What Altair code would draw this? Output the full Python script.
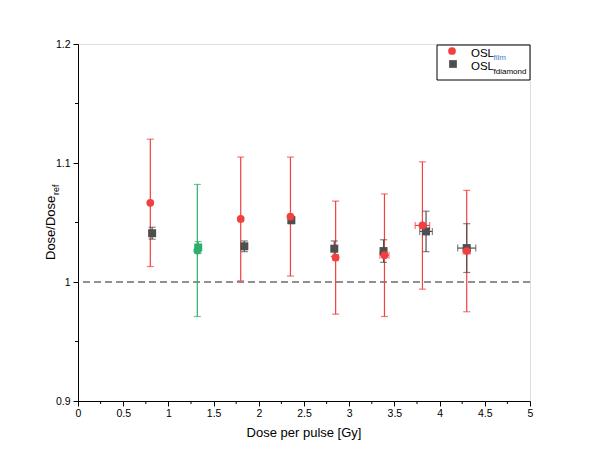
import altair as alt
import pandas as pd

# ---- data ----
dose_film = [0.80, 1.32, 1.80, 2.35, 2.85, 3.39, 3.81, 4.30]
ratio_film = [1.0665, 1.0265, 1.053, 1.055, 1.0205, 1.0225, 1.0475, 1.026]
yerr_film = [0.0535, 0.0555, 0.052, 0.050, 0.0475, 0.0515, 0.0535, 0.051]
xerr_film = [0, 0, 0, 0, 0.03, 0.05, 0.08, 0.04]
group_film = ["film", "set2", "film", "film", "film", "film", "film", "film"]

dose_diam = [0.82, 1.33, 1.84, 2.36, 2.835, 3.38, 3.85, 4.30]
ratio_diam = [1.041, 1.029, 1.030, 1.052, 1.028, 1.026, 1.0425, 1.0285]
yerr_diam = [0.005, 0.005, 0.0045, 0.003, 0.0065, 0.0095, 0.017, 0.0205]
xerr_diam = [0, 0, 0, 0, 0, 0, 0.07, 0.10]
group_diam = ["fdiamond", "set2", "fdiamond", "fdiamond", "fdiamond", "fdiamond", "fdiamond", "fdiamond"]

x_ticks = [0, 0.5, 1, 1.5, 2, 2.5, 3, 3.5, 4, 4.5, 5]
x_minor = [0.25, 0.75, 1.25, 1.75, 2.25, 2.75, 3.25, 3.75, 4.25, 4.75]
y_ticks = [0.9, 1.0, 1.1, 1.2]
y_minor = [0.95, 1.05, 1.15]
reference_level = [1.0]

RED = "#f23f3f"
GRAY = "#4f4f4f"
GREEN = "#2eaf69"
FONT = "Liberation Sans"


def make_df(xs, ys, ye, xe, grp, series):
    return pd.DataFrame({
        "x": xs, "y": ys,
        "ylo": [a - b for a, b in zip(ys, ye)],
        "yhi": [a + b for a, b in zip(ys, ye)],
        "xlo": [a - b for a, b in zip(xs, xe)],
        "xhi": [a + b for a, b in zip(xs, xe)],
        "xerr": xe, "group": grp, "series": series,
    })


film = make_df(dose_film, ratio_film, yerr_film, xerr_film, group_film, "film")
diam = make_df(dose_diam, ratio_diam, yerr_diam, xerr_diam, group_diam, "fdiamond")

xs = alt.Scale(domain=[0, 5], nice=False, zero=False)
ys = alt.Scale(domain=[0.9, 1.2], nice=False, zero=False)
xaxis = alt.Axis(values=x_ticks, format="~g", title=None, grid=False, tickSize=5,
                 labelPadding=2, labelFontSize=10.5, labelFont=FONT, labelColor="black",
                 domainColor="black", tickColor="black", labelFlush=False)
yaxis = alt.Axis(values=y_ticks, format="~g", title=None, grid=False, tickSize=5,
                 labelPadding=3, labelFontSize=10.5, labelFont=FONT, labelColor="black",
                 domainColor="black", tickColor="black", labelFlush=False)
col = alt.Color("group:N", scale=alt.Scale(domain=["film", "fdiamond", "set2"],
                                           range=[RED, GRAY, GREEN]), legend=None)


def X(f):
    return alt.X(f"{f}:Q", scale=xs, axis=xaxis)


def Y(f):
    return alt.Y(f"{f}:Q", scale=ys, axis=yaxis)


def errlayers(df):
    b = alt.Chart(df)
    xe = alt.Chart(df[df["xerr"] > 0])
    return [
        b.mark_rule(strokeWidth=1.2).encode(x=X("x"), y=Y("ylo"), y2="yhi:Q", color=col),
        b.mark_tick(orient="horizontal", size=7, thickness=1.2).encode(x=X("x"), y=Y("ylo"), color=col),
        b.mark_tick(orient="horizontal", size=7, thickness=1.2).encode(x=X("x"), y=Y("yhi"), color=col),
        xe.mark_rule(strokeWidth=1.2).encode(x=X("xlo"), x2="xhi:Q", y=Y("y"), color=col),
        xe.mark_tick(orient="vertical", size=7, thickness=1.2).encode(x=X("xlo"), y=Y("y"), color=col),
        xe.mark_tick(orient="vertical", size=7, thickness=1.2).encode(x=X("xhi"), y=Y("y"), color=col),
    ]


dashed = alt.Chart(pd.DataFrame({"v": reference_level})).mark_rule(
    strokeDash=[7, 4], color="#222222", strokeWidth=1.1).encode(y=Y("v"))

minor_x = alt.Chart(pd.DataFrame({"m": x_minor})).mark_rule(color="black").encode(
    x=X("m"), y=alt.value(357), y2=alt.value(360))
minor_y = alt.Chart(pd.DataFrame({"m": y_minor})).mark_rule(color="black").encode(
    y=Y("m"), x=alt.value(0), x2=alt.value(-3))

squares = alt.Chart(diam).mark_point(shape="square", filled=True, size=64, opacity=1).encode(
    x=X("x"), y=Y("y"), color=col)
circles = alt.Chart(film).mark_point(shape="circle", filled=True, size=60, opacity=1).encode(
    x=X("x"), y=Y("y"), color=col)

one = pd.DataFrame({"a": [0]})


def label(text, x, y, size, angle=0, align="center", baseline="middle", color="black"):
    return alt.Chart(pd.DataFrame({"t": [text]})).mark_text(
        font=FONT, fontSize=size, angle=angle, align=align, baseline=baseline, color=color
    ).encode(text="t:N", x=alt.value(x), y=alt.value(y))


titles = [
    label("Dose per pulse [Gy]", 226, 389, 13),
    label("Dose/Dose", -27, 216, 13, angle=270, align="left"),
    label("ref", -22.5, 151, 9, angle=270, align="left"),
]

legend_box = alt.Chart(one).mark_rect(fill="white", stroke="black", strokeWidth=1).encode(
    x=alt.value(359), x2=alt.value(452), y=alt.value(1), y2=alt.value(36))
legend_items = [
    alt.Chart(one).mark_point(shape="circle", filled=True, size=60, color=RED, opacity=1).encode(
        x=alt.value(374), y=alt.value(7)),
    alt.Chart(one).mark_point(shape="square", filled=True, size=60, color=GRAY, opacity=1).encode(
        x=alt.value(375), y=alt.value(20)),
    label("OSL", 393, 13, 11.5, align="left", baseline="alphabetic"),
    label("film", 415.5, 16, 8, align="left", baseline="alphabetic", color="#3d7fc4"),
    label("OSL", 393, 26, 11.5, align="left", baseline="alphabetic"),
    label("fdiamond", 415.5, 29.5, 8, align="left", baseline="alphabetic"),
]

layers = ([dashed, minor_x, minor_y] + errlayers(film) + errlayers(diam)
          + [squares, circles] + titles + [legend_box] + legend_items)

chart = alt.layer(*layers).properties(
    width=452, height=357,
    padding={"left": 70, "top": 36, "right": 50, "bottom": 40},
    autosize=alt.AutoSizeParams(type="none"),
).configure_view(stroke="black", strokeWidth=1).configure(background="white")

chart.save("out.html", embed_options={"renderer": "svg", "actions": False})
